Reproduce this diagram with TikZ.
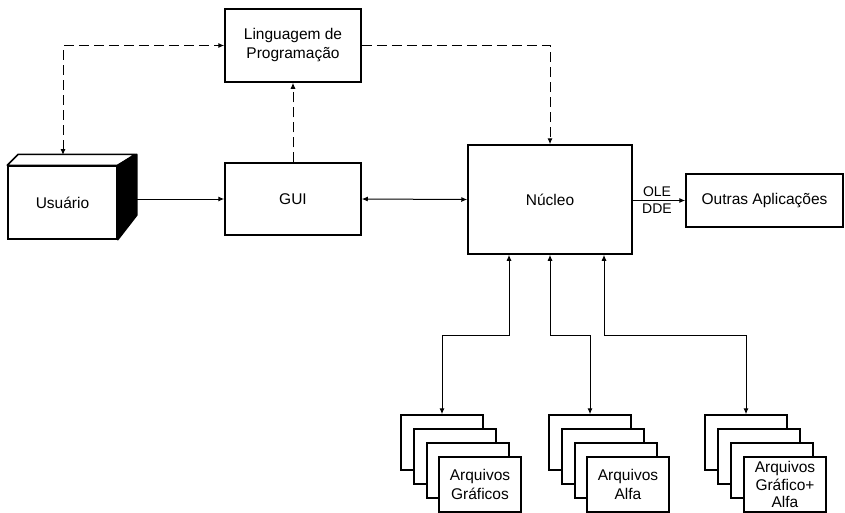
\documentclass[tikz,border=0pt]{standalone}
\usepackage{fontspec}
\setmainfont{Liberation Sans}
\usetikzlibrary{arrows.meta}
\begin{document}
\begin{tikzpicture}[x=1pt,y=-1pt,
  box/.style={draw, line width=1.5pt, rectangle, inner sep=0pt, align=center,
    fill=white, font=\fontsize{15.5}{19}\selectfont},
  filebox/.style={box, minimum width=82pt, minimum height=55pt},
  lbl/.style={inner sep=0pt, font=\fontsize{14}{14}\selectfont},
  conn/.style={line width=1pt, -{Latex[length=6pt,width=5pt]}},
  conn2/.style={line width=1pt, {Latex[length=6pt,width=5pt]}-{Latex[length=6pt,width=5pt]}},
  dconn/.style={conn, dash pattern=on 10pt off 5pt},
  dconn2/.style={conn2, dash pattern=on 10pt off 5pt}
]
\useasboundingbox (0,0) rectangle (845,512);

% main boxes
\node[box, minimum width=136pt, minimum height=73pt] (ling) at (293,45.5) {Linguagem de\\Programação};
\node[box, minimum width=136pt, minimum height=72pt] (gui) at (293,199) {GUI};
\node[box, minimum width=164pt, minimum height=109pt] (nuc) at (550,199.5) {Núcleo};
\node[box, minimum width=157pt, minimum height=53pt] (out) at (764.5,200.5) {Outras Aplicações};

% Usuario 3D box
\node[box, minimum width=109pt, minimum height=73pt] (usu) at (62.5,202.5) {Usuário};
\draw[line width=1.5pt, fill=white, line join=round] (usu.north west) -- ++(11,-11) -- ++(117,0) -- (usu.north east) -- cycle;
\draw[line width=1.5pt, fill=black, line join=round] (usu.north east) -- ++(19,-11) -- ++(0,61) -- (usu.south east) -- cycle;
\coordinate (ususide) at (136,199);
\coordinate (usutop) at (63,155);

% file stacks
\foreach \s/\x in {a/401, b/549, c/705} {
  \foreach \k in {0,1,2} {
    \node[filebox] (\s\k) at ({\x+41+13*\k},{442.5+14*\k}) {};
  }
}
\node[filebox] (a3) at (480,484.5) {Arquivos\\Gráficos};
\node[filebox] (b3) at (628,484.5) {Arquivos\\Alfa};
\node[filebox, font=\fontsize{15.5}{17.5}\selectfont] (c3) at (785,484.5) {Arquivos\\Gráfico+\\Alfa};

% connectors
\draw[conn] (ususide) -- (gui.west);
\draw[conn2] (gui.east) -- (nuc.west);
\draw[dconn2] (usutop) |- (ling.west);
\draw[dconn] (gui.north) -- (ling.south);
\draw[dconn] (ling.east) -| (nuc.north);
\draw[conn] (nuc.east |- out.west) -- (out.west);
\node[lbl, anchor=base] (ole) at (657,196) {OLE};
\node[lbl, anchor=base] (dde) at (657,213) {DDE};

\coordinate (h1) at (509,335);
\coordinate (h2) at (550,335);
\coordinate (h3) at (604,335);
\draw[conn2] (nuc.south -| h1) -- (h1) -| (a0.north);
\draw[conn2] (nuc.south -| h2) -- (h2) -| (b0.north);
\draw[conn2] (nuc.south -| h3) -- (h3) -| (c0.north);
\end{tikzpicture}
\end{document}
